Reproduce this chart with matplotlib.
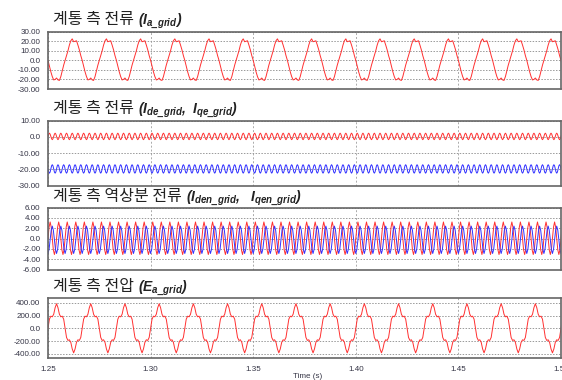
import numpy as np
import matplotlib
matplotlib.use("Agg")
import matplotlib.pyplot as plt

plt.rcParams['mathtext.fontset'] = 'custom'
plt.rcParams['mathtext.rm'] = 'Liberation Sans:bold:italic'
plt.rcParams['mathtext.it'] = 'Liberation Sans:bold:italic'
plt.rcParams['mathtext.bf'] = 'Liberation Sans:bold:italic'

t_start, t_end = 1.25, 1.50
x_ticks = [1.25, 1.30, 1.35, 1.40, 1.45, 1.50]

# one 60 Hz cycle of the grid current Ia (15 deg steps)
ia_cycle = [0, -6, -12, -17, -20.5, -20, -18.5, -20.5, -21, -17, -11, -5,
            0, 5, 10, 16, 20.5, 22.5, 19.5, 20, 20.5, 16, 11, 5]
# one 360 Hz ripple cycle of the d/q grid currents
ide_cycle = [0.2, 1.6, 2.2, 1.6, 0.2, -1.2, -1.8, -1.2]
iqe_cycle = [-19.8, -21.7, -22.4, -21.7, -19.8, -17.9, -17.2, -17.9]
# one 240 Hz cycle of the negative sequence d/q currents
iden_cycle = [0.0, 2.2, 3.2, 2.2, 0.0, -2.2, -3.1, -2.2]
iqen_cycle = [-2.9, -2.1, -0.3, 1.6, 2.4, 1.6, -0.3, -2.1]
# one 60 Hz cycle of the grid voltage Ea
ea_cycle = [0, 143, 190, 180, 220, 323, 385, 323, 220, 180, 190, 143,
            0, -143, -190, -180, -220, -323, -385, -323, -220, -180, -190, -143]

titles_kr = ['계통 측 전류', '계통 측 전류', '계통 측 역상분 전류', '계통 측 전압']
titles_sym = [r'$(I_{a\_grid})$',
              r'$(I_{de\_grid},\ I_{qe\_grid})$',
              r'$(I_{den\_grid},\ \ I_{qen\_grid})$',
              r'$(E_{a\_grid})$']
y_limits = [(-30, 30), (-30, 10), (-6, 6), (-470, 470)]
y_ticks = [[30, 20, 10, 0, -10, -20, -30],
           [10, 0, -10, -20, -30],
           [6, 4, 2, 0, -2, -4, -6],
           [400, 200, 0, -200, -400]]


def tiled(cycle, freq):
    n_per = len(cycle)
    n_cyc = int(np.ceil((t_end - t_start) * freq)) + 1
    y = np.append(np.tile(cycle, n_cyc), cycle[0])
    t = t_start + np.arange(len(y)) / (freq * n_per)
    return t, y


W, H = 562, 380
fig = plt.figure(figsize=(W / 100, H / 100), dpi=100)
renderer = fig.canvas.get_renderer()

# panel boxes in pixels: (top, bottom)
rows = [(31.7, 89.0), (120.5, 185.5), (207.5, 269.5), (298.3, 358.3)]
title_base = [24, 113, 201, 291]
left_px, right_px = 48, 561

red = '#ff3030'
blue = '#3030ff'

series = [
    [(ia_cycle, 60, red)],
    [(ide_cycle, 360, red), (iqe_cycle, 360, blue)],
    [(iden_cycle, 240, red), (iqen_cycle, 240, blue)],
    [(ea_cycle, 60, red)],
]

for i, (top, bot) in enumerate(rows):
    ax = fig.add_axes([left_px / W, 1 - bot / H, (right_px - left_px) / W, (bot - top) / H])
    for cyc, freq, col in series[i]:
        t, y = tiled(cyc, freq)
        ax.plot(t, y, color=col, lw=0.7)
    ax.set_xlim(t_start, t_end)
    ax.set_ylim(*y_limits[i])
    ax.set_yticks(y_ticks[i])
    ax.set_yticklabels(['0.0' if v == 0 else f'{v:.2f}' for v in y_ticks[i]])
    ax.set_xticks(x_ticks)
    if i == 3:
        ax.set_xticklabels([f'{v:.2f}' for v in x_ticks])
    else:
        ax.set_xticklabels([])
    ax.tick_params(length=0, labelsize=5.8, labelcolor='#333344', pad=5.5)
    for lab in ax.get_yticklabels() + ax.get_xticklabels():
        lab.set_family('Liberation Sans')
    ax.yaxis.grid(True, linestyle=(0, (1.5, 1.5)), color='#999999', lw=0.7)
    ax.xaxis.grid(True, linestyle=(0, (2, 2)), color='#aaaaaa', lw=0.7)
    for sp in ax.spines.values():
        sp.set_color('#666666')
        sp.set_linewidth(1.2)
    kr = fig.text(53 / W, 1 - title_base[i] / H, titles_kr[i], fontsize=11.5,
                  family='Noto Sans CJK KR', color='#222222', va='baseline', ha='left')
    x_end = kr.get_window_extent(renderer).x1
    fig.text((x_end + 4) / W, 1 - title_base[i] / H, titles_sym[i], fontsize=10,
             color='#222222', va='baseline', ha='left')

fig.text(293 / W, 1 - 373 / H, 'Time (s)', fontsize=5.8, family='Liberation Sans',
         color='#333344', va='top', ha='left')

fig.savefig('out.png', dpi=100)
plt.close()
